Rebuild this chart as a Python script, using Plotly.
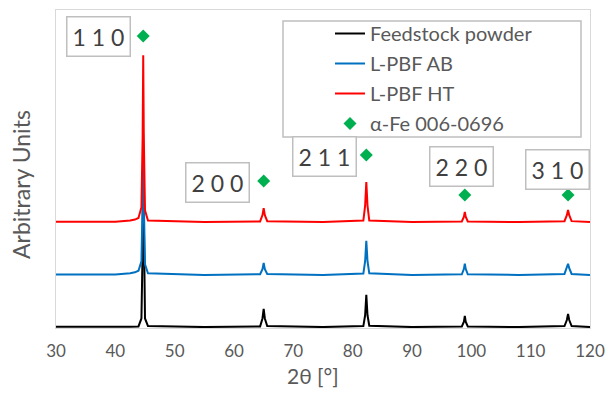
import plotly.graph_objects as go

# ---- data ----
two_theta = [30, 35, 40, 42.5, 43.3, 43.9, 44.4, 44.6, 44.7, 44.8, 45.0, 45.5,
             55, 64.4, 64.8, 65.0, 65.2, 65.6, 75, 81.8, 82.1, 82.3, 82.5, 82.8,
             90, 98.4, 98.75, 98.9, 99.05, 99.4, 108, 115.7, 116.1, 116.3, 116.5, 116.9, 120]

feedstock = [0.4, 0.3, 0.4, 0.4, 0.4, 0.5, 3, 25, 50, 25, 3, 0.6,
             0.3, 0.5, 3, 6.0, 3, 0.6, 0.3, 0.6, 4, 10.4, 4, 0.7,
             0.3, 0.5, 2, 3.8, 2, 0.5, 0.3, 0.6, 2.5, 4.4, 2.5, 0.6, 0.3]

lpbf_ab = [16.8, 16.7, 16.8, 17.2, 17.5, 18, 21, 40, 61, 40, 20, 17.2,
           16.7, 16.9, 18.5, 20.5, 18.5, 17, 16.7, 17.1, 21, 27.4, 21, 17.2,
           16.7, 16.9, 18.6, 20.2, 18.6, 16.9, 16.7, 17, 18.8, 20.2, 18.8, 17, 16.7]

lpbf_ht = [33.4, 33.3, 33.4, 33.8, 34.1, 34.6, 38, 60, 85.8, 60, 37, 33.8,
           33.3, 33.5, 35.5, 37.7, 35.5, 33.6, 33.3, 33.8, 38.5, 45.9, 38.5, 33.8,
           33.3, 33.5, 35, 36.5, 35, 33.5, 33.3, 33.6, 35.5, 37.1, 35.5, 33.6, 33.3]

ref_x = [44.7, 65.0, 82.3, 98.9, 116.3]
ref_y = [91.8, 46.2, 54.4, 41.8, 41.8]
hkl_labels = ["1 1 0", "2 0 0", "2 1 1", "2 2 0", "3 1 0"]

series_names = ["Feedstock powder", "L-PBF AB", "L-PBF HT"]
ref_name = "α-Fe 006-0696"
x_ticks = [30, 40, 50, 60, 70, 80, 90, 100, 110, 120]

# ---- figure ----
FONT = "Lato"
GRAY = "#595959"
colors = ["#000000", "#0070c0", "#ff0000"]

# plot area in pixels: left 56, right 590, top 10, bottom 328
L, R, T, B = 56, 590, 10, 328
def px_x(p):
    return (p - L) / (R - L)
def px_y(p):
    return (B - p) / (B - T)

fig = go.Figure()
for i, (name, ys) in enumerate(zip(series_names, [feedstock, lpbf_ab, lpbf_ht])):
    fig.add_trace(go.Scatter(x=two_theta, y=ys, mode="lines", name=name,
                             legendgroup=f"g{i}",
                             line=dict(color=colors[i], width=2)))
fig.add_trace(go.Scatter(x=ref_x, y=ref_y, mode="markers", name=ref_name,
                         legendgroup="g3",
                         marker=dict(symbol="diamond", size=10, color="#00b050")))

label_pos = [(37.1, 91.8), (57.3, 45.9), (75.3, 53.8), (98.4, 50.9), (114.6, 50.0)]
for lab, (lx, ly) in zip(hkl_labels, label_pos):
    fig.add_annotation(x=lx, y=ly, xref="x", yref="y", text=lab, showarrow=False,
                       xanchor="center", yanchor="middle",
                       font=dict(family=FONT, size=23, color="#404040"),
                       bordercolor="#bfbfbf", borderwidth=1.5, borderpad=5,
                       bgcolor="white")

# axis titles
fig.add_annotation(x=px_x(21), y=px_y(185), xref="paper", yref="paper",
                   xanchor="center", yanchor="middle",
                   text="Arbitrary Units", textangle=-90, showarrow=False,
                   font=dict(family=FONT, size=23, color=GRAY))
fig.add_annotation(x=px_x(313), y=px_y(375), xref="paper", yref="paper",
                   xanchor="center", yanchor="middle",
                   text="2θ [°]", showarrow=False,
                   font=dict(family=FONT, size=21, color=GRAY))

# legend frame
fig.add_shape(type="rect", xref="paper", yref="paper",
              x0=px_x(283), x1=px_x(581), y0=px_y(137), y1=px_y(21),
              line=dict(color="#bfbfbf", width=1.5), fillcolor="white", layer="below")

fig.update_layout(
    width=606, height=393,
    margin=dict(l=L, r=606 - R, t=T, b=393 - B),
    paper_bgcolor="white", plot_bgcolor="white",
    font=dict(family=FONT, color=GRAY),
    showlegend=True,
    legend=dict(x=px_x(330), y=px_y(14), xanchor="left", yanchor="top",
                bgcolor="rgba(0,0,0,0)", borderwidth=0,
                font=dict(family=FONT, size=20, color=GRAY),
                tracegroupgap=1, itemwidth=30),
    xaxis=dict(range=[30, 120], tickvals=x_ticks, showgrid=False, zeroline=False,
               showline=True, linecolor="#d9d9d9", linewidth=1, mirror=True,
               ticks="", tickfont=dict(size=17, color=GRAY), automargin=False,
               ticklabelstandoff=8),
    yaxis=dict(range=[0, 100], showticklabels=False, showgrid=False, zeroline=False,
               showline=True, linecolor="#d9d9d9", linewidth=1, mirror=True, ticks="",
               automargin=False),
)

fig.write_html("out.html", post_script="document.body.style.margin='0';",
               config={"displayModeBar": False})
